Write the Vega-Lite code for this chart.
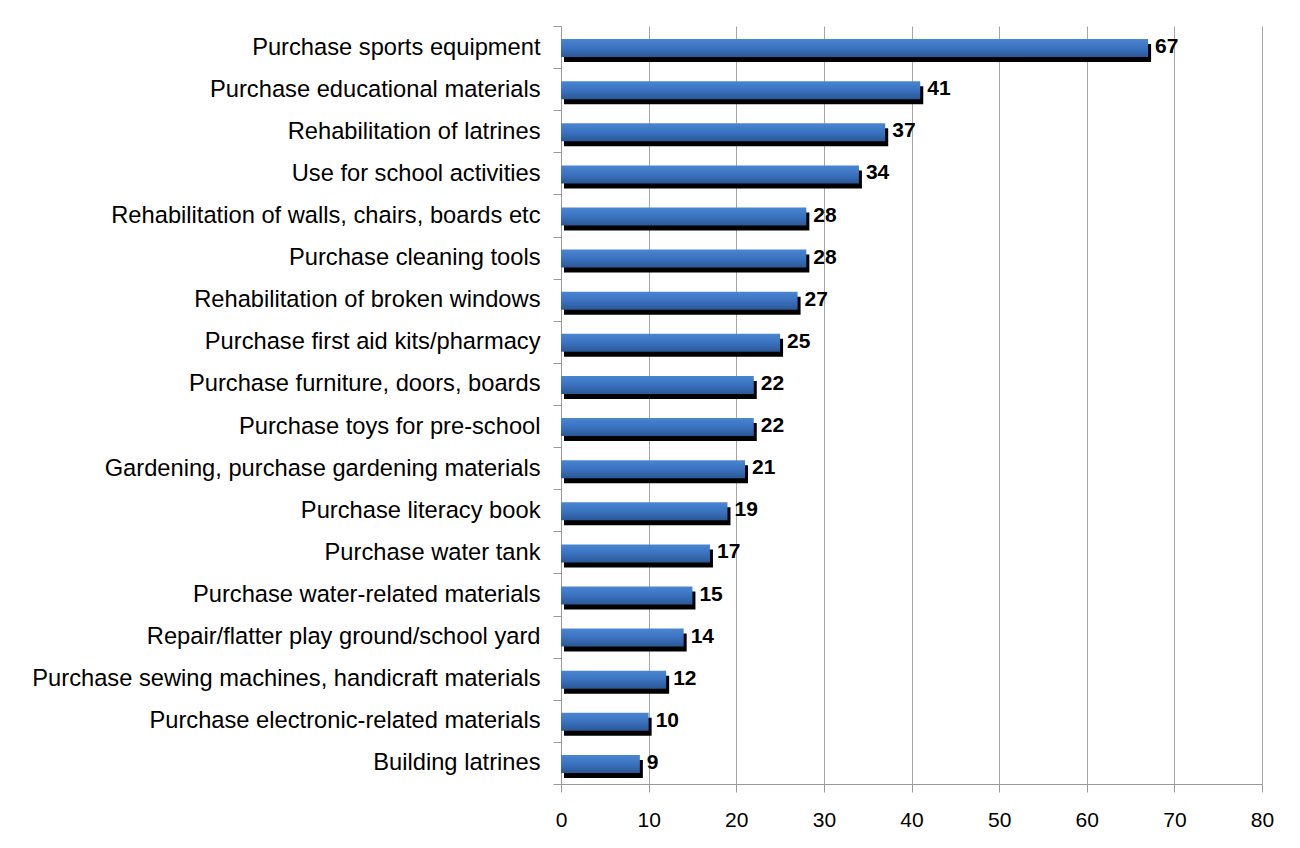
{
  "$schema": "https://vega.github.io/schema/vega-lite/v6.json",
  "width": 701,
  "height": 758,
  "autosize": "none",
  "padding": {"left": 561, "top": 26, "right": 38, "bottom": 64},
  "background": "white",
  "config": {"view": {"stroke": null}},
  "data": {
    "values": [
      {"item": "Purchase sports equipment", "value": 67},
      {"item": "Purchase educational materials", "value": 41},
      {"item": "Rehabilitation of latrines", "value": 37},
      {"item": "Use for school activities", "value": 34},
      {"item": "Rehabilitation of walls, chairs, boards etc", "value": 28},
      {"item": "Purchase cleaning tools", "value": 28},
      {"item": "Rehabilitation of broken windows", "value": 27},
      {"item": "Purchase first aid kits/pharmacy", "value": 25},
      {"item": "Purchase furniture, doors, boards", "value": 22},
      {"item": "Purchase toys for pre-school ", "value": 22},
      {"item": "Gardening, purchase gardening materials", "value": 21},
      {"item": "Purchase literacy book", "value": 19},
      {"item": "Purchase water tank", "value": 17},
      {"item": "Purchase water-related materials", "value": 15},
      {"item": "Repair/flatter play ground/school yard", "value": 14},
      {"item": "Purchase sewing machines, handicraft materials", "value": 12},
      {"item": "Purchase electronic-related materials", "value": 10},
      {"item": "Building latrines", "value": 9}
    ]
  },
  "encoding": {
    "y": {
      "field": "item",
      "type": "nominal",
      "sort": null,
      "scale": {"paddingInner": 0, "paddingOuter": 0},
      "axis": {
        "title": null,
        "grid": false,
        "domain": true,
        "domainColor": "#999999",
        "ticks": true,
        "tickBand": "extent",
        "tickSize": 8,
        "tickColor": "#999999",
        "labelFont": "Liberation Sans",
        "labelFontSize": 23.7,
        "labelColor": "#000000",
        "labelPadding": 13,
        "labelLimit": 0
      }
    },
    "x": {
      "field": "value",
      "type": "quantitative",
      "scale": {"domain": [0, 80], "nice": false},
      "axis": {
        "title": null,
        "values": [0, 10, 20, 30, 40, 50, 60, 70, 80],
        "grid": true,
        "gridColor": "#A6A6A6",
        "gridWidth": 1,
        "domainColor": "#999999",
        "tickColor": "#999999",
        "tickSize": 8,
        "labelFont": "Liberation Sans",
        "labelFontSize": 21,
        "labelColor": "#000000",
        "labelPadding": 17,
        "labelFlush": false
      }
    }
  },
  "layer": [
    {
      "mark": {"type": "bar", "color": "#000000", "size": 18, "xOffset": 3, "x2Offset": 4, "yOffset": 6}
    },
    {
      "mark": {
        "type": "bar",
        "size": 18,
        "yOffset": 1,
        "fill": {
          "gradient": "linear",
          "x1": 0, "y1": 0, "x2": 0, "y2": 1,
          "stops": [
            {"offset": 0, "color": "#4A86D2"},
            {"offset": 0.5, "color": "#3A72C0"},
            {"offset": 1, "color": "#2B5896"}
          ]
        }
      }
    },
    {
      "mark": {
        "type": "text",
        "align": "left",
        "baseline": "middle",
        "dx": 7,
        "dy": 0,
        "font": "Liberation Sans",
        "fontSize": 21,
        "fontWeight": "bold",
        "color": "#000000"
      },
      "encoding": {"text": {"field": "value", "type": "quantitative"}}
    }
  ]
}
